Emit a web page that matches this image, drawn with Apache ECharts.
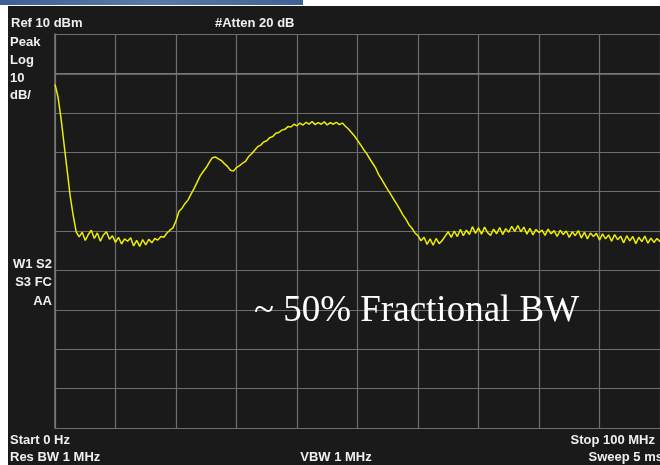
<!DOCTYPE html>
<html>
<head>
<meta charset="utf-8">
<script src="https://cdn.jsdelivr.net/npm/echarts@6/dist/echarts.min.js"></script>
<style>
html,body{margin:0;padding:0;background:#ffffff;}
#chart{width:660px;height:465px;}
</style>
</head>
<body>
<div id="chart"></div>
<script>
// Frequency axis (MHz) and amplitude axis (dBm)
const freqStart = 0;
const freqStop = 100;
const freqStep = 0.5;
const refLevel = 10;
const dbPerDiv = 10;
const bottomLevel = -90;

// Trace values (dBm), one per 0.5 MHz from 0 to 100 MHz
const traceDbm = [
  -2.8, -6.0, -11.5, -18.0, -24.5, -31.0, -36.0, -40.2, -41.5, -40.3,
  -42.4, -40.9, -39.8, -41.9, -40.5, -42.6, -41.0, -40.2, -42.1, -41.2,
  -42.9, -41.6, -43.3, -42.0, -42.6, -41.7, -43.8, -42.4, -43.9, -42.2,
  -43.5, -42.1, -43.0, -41.9, -42.3, -41.4, -41.6, -40.5, -39.8, -39.2,
  -37.4, -35.0, -34.2, -33.0, -32.1, -30.6, -29.2, -27.6, -26.0, -24.9,
  -23.9, -22.6, -21.4, -21.2, -21.7, -22.1, -22.9, -23.6, -24.6, -24.8,
  -23.9, -23.4, -22.8, -22.3, -21.1, -20.4, -19.5, -18.6, -18.2, -17.4,
  -17.1, -16.3, -16.0, -15.2, -15.0, -14.4, -14.2, -13.5, -13.6, -12.9,
  -13.3, -12.6, -13.1, -12.4, -12.9, -12.2, -13.0, -12.5, -12.9, -12.3,
  -13.1, -12.5, -12.9, -12.4, -13.0, -12.6, -13.4, -14.1, -15.0, -15.9,
  -17.0, -18.1, -19.3, -20.3, -21.6, -22.8, -24.0, -25.7, -26.9, -28.2,
  -29.5, -30.7, -32.0, -33.2, -34.5, -35.9, -37.0, -38.4, -39.3, -40.5,
  -41.2, -42.5, -41.6, -43.4, -42.0, -43.6, -41.9, -43.2, -42.4, -41.3,
  -40.2, -41.6, -40.0, -41.4, -39.6, -41.2, -39.8, -40.9, -38.9, -40.6,
  -39.2, -40.8, -39.0, -40.4, -41.1, -39.5, -40.7, -39.1, -40.9, -39.4,
  -40.3, -38.8, -40.1, -38.6, -40.2, -39.0, -40.8, -39.3, -41.0, -39.6,
  -40.4, -39.8, -41.1, -39.5, -40.7, -39.9, -41.4, -39.8, -40.9, -40.0,
  -41.6, -40.2, -41.2, -39.9, -41.8, -40.3, -42.0, -40.5, -41.4, -40.6,
  -42.3, -40.7, -42.0, -41.0, -42.6, -40.9, -42.2, -41.3, -43.0, -41.2,
  -42.5, -41.4, -43.2, -41.6, -42.7, -41.3, -43.1, -41.8, -42.9, -41.9,
  -42.7
];

// Annotation texts
const topLeftLabel = 'Ref 10 dBm';
const topMidLabel = '#Atten 20 dB';
const sideTopLabels = ['Peak', 'Log', '10', 'dB/'];
const sideMidLabels = ['W1 S2', 'S3 FC', 'AA'];
const bottomLabels = ['Start 0 Hz', 'Stop 100 MHz', 'Res BW 1 MHz', 'VBW 1 MHz', 'Sweep 5 ms'];
const noteText = '~ 50% Fractional BW';

const traceData = traceDbm.map((v, i) => [freqStart + i * freqStep, v]);

const chart = echarts.init(document.getElementById('chart'), null, {renderer: 'canvas'});

const labelFont = 'bold 13px "Liberation Sans", Arial, sans-serif';
const txtColor = '#efefef';
function lbl(text, x, y, align) {
  return {
    type: 'text', x: x, y: y, z: 10,
    style: {text: text, fill: txtColor, font: labelFont, align: align || 'left', verticalAlign: 'middle'}
  };
}

const graphics = [
  {type: 'rect', shape: {x: 0, y: 0, width: 303, height: 5}, z: -10,
   style: {fill: new echarts.graphic.LinearGradient(0, 0, 1, 0, [
     {offset: 0, color: '#3d5f95'}, {offset: 0.5, color: '#5a7aa8'}, {offset: 1, color: '#3f6194'}])}},
  {type: 'rect', shape: {x: 8, y: 6, width: 652, height: 459}, z: -10, style: {fill: '#1a1a1a'}},
  lbl(topLeftLabel, 11, 23),
  lbl(topMidLabel, 215, 23),
  lbl(sideTopLabels[0], 10, 42),
  lbl(sideTopLabels[1], 10, 60),
  lbl(sideTopLabels[2], 10, 78),
  lbl(sideTopLabels[3], 10, 95),
  lbl(sideMidLabels[0], 52, 264, 'right'),
  lbl(sideMidLabels[1], 52, 282, 'right'),
  lbl(sideMidLabels[2], 52, 301, 'right'),
  lbl(bottomLabels[0], 10, 440),
  lbl(bottomLabels[1], 655, 440, 'right'),
  lbl(bottomLabels[2], 10, 457),
  lbl(bottomLabels[3], 336, 457, 'center'),
  lbl(bottomLabels[4], 663, 457, 'right'),
  {type: 'text', x: 254, y: 311, z: 10,
   style: {text: noteText, fill: '#ffffff', font: '37px "Liberation Serif", "Times New Roman", serif', align: 'left', verticalAlign: 'middle'}}
];

chart.setOption({
  backgroundColor: 'transparent',
  animation: false,
  grid: {left: 55, top: 34, width: 610, height: 394, containLabel: false},
  xAxis: {
    type: 'value', min: freqStart, max: freqStop, interval: 10,
    axisLine: {show: true, lineStyle: {color: '#7a7a7a', width: 1.5}},
    axisTick: {show: false}, axisLabel: {show: false},
    splitLine: {show: true, lineStyle: {color: '#6e6e6e', width: 1.2}}
  },
  yAxis: {
    type: 'value', min: bottomLevel, max: refLevel, interval: dbPerDiv,
    axisLine: {show: true, lineStyle: {color: '#7a7a7a', width: 1.5}},
    axisTick: {show: false}, axisLabel: {show: false},
    splitLine: {show: true, lineStyle: {color: '#6e6e6e', width: 1.2}}
  },
  series: [{
    type: 'line', data: traceData, showSymbol: false, smooth: false,
    lineStyle: {color: '#eded00', width: 1.5}, z: 5
  }],
  graphic: graphics
});
</script>
</body>
</html>
